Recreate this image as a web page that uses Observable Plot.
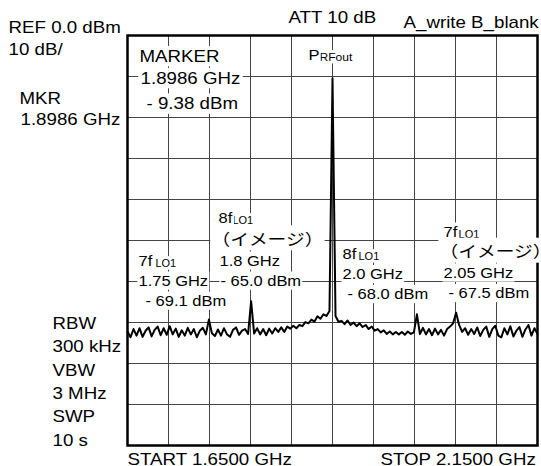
<!DOCTYPE html>
<html><head><meta charset="utf-8">
<script src="https://cdn.jsdelivr.net/npm/d3@7"></script>
<script src="https://cdn.jsdelivr.net/npm/@observablehq/plot@0.6"></script>
<style>
html,body{margin:0;padding:0;background:#fff;}
#chart svg{display:block;}
</style></head><body><div id="chart"></div>
<script>
// Grid ticks (GHz, dBm)
const xTicksGHz = [1.65, 1.70, 1.75, 1.80, 1.85, 1.90, 1.95, 2.00, 2.05, 2.10, 2.15];
const yTicksDbm = [0, -10, -20, -30, -40, -50, -60, -70, -80, -90, -100];

// Sweep: START / STOP and trace levels (dBm) at equally spaced sweep points
const sweepStartGHz = 1.65;
const sweepStopGHz = 2.15;
const traceDbm = [
  -72.2, -73.6, -71.6, -73.2, -71.4, -73.5, -72.0, -71.2, -73.4, -71.8,
  -71.0, -73.1, -71.4, -73.0, -70.9, -72.9, -71.5, -73.5, -71.9, -73.2,
  -71.3, -72.9, -71.6, -73.6, -72.0, -71.3, -72.9, -69.3, -72.6, -73.3,
  -71.7, -73.2, -71.4, -72.9, -73.5, -71.8, -71.2, -73.0, -72.0, -71.6,
  -72.8, -64.8, -72.7, -71.4, -72.9, -71.6, -73.1, -71.5, -72.7, -71.4,
  -72.3, -71.2, -72.3, -71.0, -71.5, -70.8, -71.4, -70.6, -70.9, -69.9,
  -70.2, -69.3, -69.8, -68.5, -69.1, -68.0, -68.4, -67.2,
  -10.4,
  -68.4, -69.8, -69.6, -70.4, -69.5, -70.6, -70.0, -70.9, -70.2, -71.1, -70.6,
  -71.6, -71.0, -72.0, -71.6, -72.4, -71.9, -72.8, -72.2, -72.9, -72.3,
  -72.9, -72.3, -73.0, -72.2, -72.8, -72.4, -68.0, -72.8, -71.3, -72.9,
  -71.6, -73.1, -71.5, -72.9, -71.8, -73.2, -71.6, -71.0, -70.2, -67.6,
  -70.6, -72.3, -71.4, -73.0, -71.6, -72.8, -71.2, -73.3, -71.8, -71.0,
  -73.5, -71.6, -70.8, -73.2, -73.6, -71.4, -72.9, -70.9, -73.4, -72.0,
  -71.1, -73.5, -71.7, -70.6, -73.2, -71.4, -72.8
];
const trace = traceDbm.map((v, i) => ({
  f: sweepStartGHz + i * (sweepStopGHz - sweepStartGHz) / (traceDbm.length - 1),
  dBm: v
}));

// Instrument settings around the screen
const headerLabels = [
  {text: "REF 0.0 dBm", f: 1.5049, dBm: 1.83},
  {text: "10 dB/", f: 1.5049, dBm: -3.41},
  {text: "MKR", f: 1.5183, dBm: -15.37},
  {text: "1.8986 GHz", f: 1.5195, dBm: -20.61},
  {text: "ATT 10 dB", f: 1.8463, dBm: 4.27},
  {text: "A_write B_blank", f: 1.9866, dBm: 3.05},
  {text: "RBW", f: 1.5585, dBm: -70.37},
  {text: "300 kHz", f: 1.5585, dBm: -75.98},
  {text: "VBW", f: 1.5585, dBm: -81.71},
  {text: "3 MHz", f: 1.5585, dBm: -87.44},
  {text: "SWP", f: 1.5585, dBm: -93.05},
  {text: "10 s", f: 1.5585, dBm: -98.78},
  {text: "START 1.6500 GHz", f: 1.65, dBm: -103.41},
  {text: "STOP 2.1500 GHz", f: 1.9585, dBm: -103.41}
];
// Marker readout
const markerLabels = [
  {text: "MARKER", f: 1.6646, dBm: -5.12},
  {text: "1.8986 GHz", f: 1.6659, dBm: -10.49},
  {text: "- 9.38 dBm", f: 1.6732, dBm: -16.71}
];
// Spur annotations
const spurLabels = [
  {text: "P", f: 1.8707, dBm: -4.88},
  {text: "8f", f: 1.7610, dBm: -44.51},
  {text: "1.8 GHz", f: 1.7622, dBm: -55.0},
  {text: "- 65.0 dBm", f: 1.7634, dBm: -59.88},
  {text: "7f", f: 1.6634, dBm: -55.12},
  {text: "1.75 GHz", f: 1.6634, dBm: -59.88},
  {text: "- 69.1 dBm", f: 1.6720, dBm: -64.76},
  {text: "8f", f: 1.9122, dBm: -53.41},
  {text: "2.0 GHz", f: 1.9122, dBm: -58.29},
  {text: "- 68.0 dBm", f: 1.9183, dBm: -63.17},
  {text: "7f", f: 2.0354, dBm: -47.93},
  {text: "2.05 GHz", f: 2.0354, dBm: -57.93},
  {text: "- 67.5 dBm", f: 2.0415, dBm: -62.93}
];
const subLabels = [
  {text: "LO1", f: 1.7780, dBm: -45.12},
  {text: "LO1", f: 1.6841, dBm: -55.61},
  {text: "LO1", f: 1.9317, dBm: -53.9},
  {text: "LO1", f: 2.0537, dBm: -48.54}
];
const rfSubLabels = [{text: "RFout", f: 1.8841, dBm: -5.24}];
const imageLabels = [
  {text: "（イメージ）", f: 1.7524, dBm: -49.76},
  {text: "（イメージ）", f: 2.0305, dBm: -52.80}
];

const latin = "'Liberation Sans', Arial, Helvetica, sans-serif";
const txt = (data, size, label, extra = {}) => Plot.text(data, {
  x: "f", y: "dBm", text: "text", textAnchor: "start", lineAnchor: "middle",
  fontSize: size, fill: "black", fontFamily: latin, ariaDescription: label, ...extra
});

const chart = Plot.plot({
  width: 541, height: 466,
  marginLeft: 127, marginRight: 4, marginTop: 35, marginBottom: 21,
  style: {fontFamily: latin, background: "white"},
  x: {domain: [1.65, 2.15], axis: null},
  y: {domain: [-100, 0], axis: null},
  marks: [
    Plot.ruleX(xTicksGHz, {stroke: "#444", strokeWidth: 1}),
    Plot.ruleY(yTicksDbm, {stroke: "#444", strokeWidth: 1}),
    Plot.line(trace, {x: "f", y: "dBm", stroke: "black", strokeWidth: 2}),
    Plot.frame({stroke: "black", strokeWidth: 2.5}),
    txt(headerLabels, 16, "hdr"),
    txt(markerLabels, 16, "mk"),
    txt(subLabels, 10, "sub"),
    txt(rfSubLabels, 11, "sub"),
    txt(imageLabels, 16, "jp", {fontFamily: "'Noto Sans CJK JP', sans-serif"}),
    txt(spurLabels, 15, "harm")
  ]
});
document.getElementById("chart").append(chart);

const groupStyle = {
  hdr: {s: 1.17, box: false, pad: 0},
  mk: {s: 1.17, box: true, pad: 2},
  sub: {s: 1.1, box: true, pad: 0.5},
  jp: {s: 1.17, box: true, pad: 1},
  harm: {s: 1.1, box: true, pad: 1}
};
for (const [label, cfg] of Object.entries(groupStyle)) {
  const holders = chart.querySelectorAll(`[aria-description="${label}"]`);
  const texts = [];
  holders.forEach(h => {
    if (h.tagName.toLowerCase() === "text") texts.push(h);
    else h.querySelectorAll("text").forEach(t => texts.push(t));
  });
  texts.forEach(t => {
    const tr = t.getAttribute("transform");
    if (tr) t.setAttribute("transform", `${tr} scale(${cfg.s},1)`);
    else {
      const x = +t.getAttribute("x") || 0;
      t.setAttribute("transform", `translate(${x},0) scale(${cfg.s},1) translate(${-x},0)`);
    }
    if (cfg.box) {
      const b = t.getBBox();
      const r = document.createElementNS("http://www.w3.org/2000/svg", "rect");
      r.setAttribute("x", b.x - cfg.pad);
      r.setAttribute("y", b.y - 1);
      r.setAttribute("width", b.width + 2 * cfg.pad);
      r.setAttribute("height", b.height + 2);
      r.setAttribute("fill", "white");
      r.setAttribute("stroke", "none");
      r.setAttribute("transform", t.getAttribute("transform"));
      t.parentNode.insertBefore(r, t);
    }
  });
}
</script></body></html>
